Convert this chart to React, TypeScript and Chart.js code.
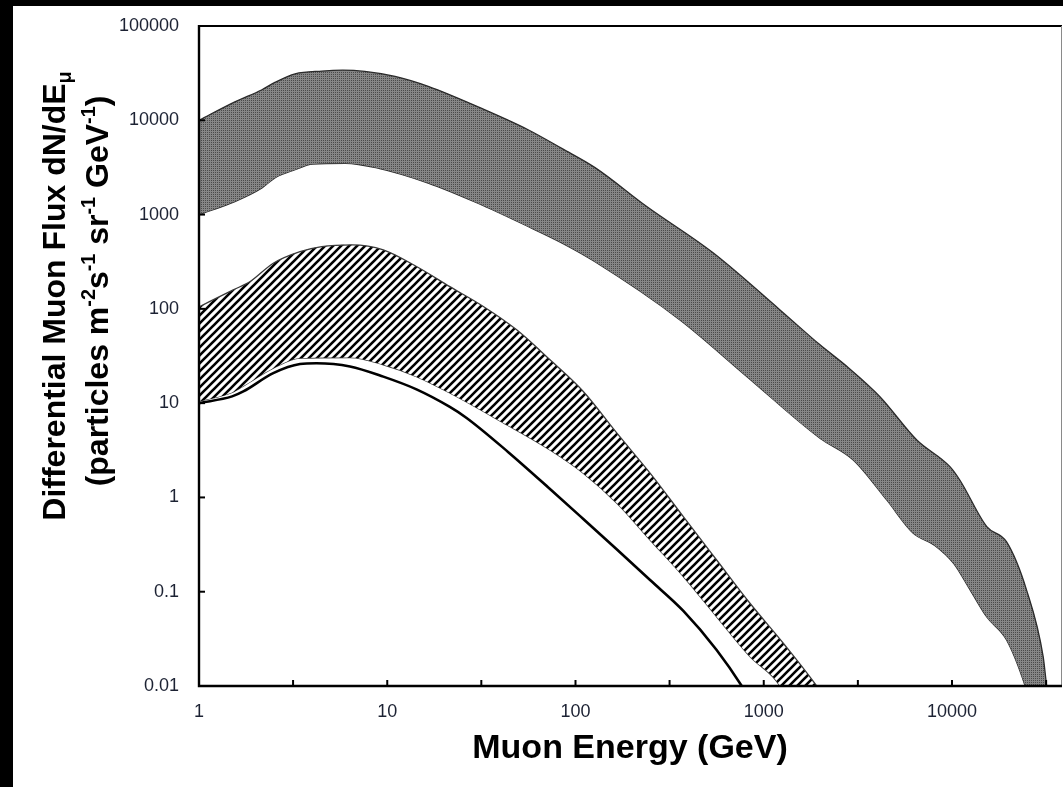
import React, { useEffect, useRef } from 'react';
import { Chart, registerables } from 'chart.js';

Chart.register(...registerables);

// ---- Data (Muon energy in GeV, differential flux) ----
const grayUpperE = [1, 1.55, 2.16, 2.53, 3.24, 4.5, 5.8, 7.6, 11, 16.5, 33, 56, 85, 127, 239, 538, 1220, 1990, 2770, 4140, 6500, 9750, 11000, 15300, 19500, 24900, 30500, 31800, 34000];
const grayUpperF = [10000, 15700, 21100, 25200, 31100, 33300, 34000, 33000, 29200, 22900, 12900, 7930, 5000, 3150, 1217, 393, 97.5, 41.5, 24.4, 11.7, 4.07, 2.12, 1.53, 0.49, 0.337, 0.104, 0.0205, 0.0102, 0.004];

const grayLowerE = [1, 1.55, 2.16, 2.53, 3.24, 4.0, 6.0, 8.9, 16.5, 30.3, 56, 85, 127, 359, 815, 1990, 2990, 4500, 6230, 8100, 10200, 12500, 15300, 19500, 24400, 27000, 34000];
const grayLowerF = [1000, 1375, 1920, 2450, 2990, 3430, 3500, 3110, 2160, 1320, 747, 498, 316, 76.4, 19.1, 4.25, 2.5, 0.94, 0.417, 0.31, 0.2, 0.104, 0.054, 0.0308, 0.0102, 0.005, 0.002];

const hatchUpperE = [1, 1.52, 1.87, 2.48, 3.44, 4.49, 6.5, 9.53, 14.3, 21.5, 32.4, 48.7, 73.2, 110, 166, 249, 374, 562, 845, 1270, 1910, 2600];
const hatchUpperF = [105, 159, 195, 305, 405, 458, 478, 423, 281, 172, 106, 59.9, 28.8, 13.3, 4.8, 1.81, 0.625, 0.217, 0.0754, 0.0284, 0.01, 0.004];

const hatchLowerE = [1, 1.5, 1.75, 2.48, 3.44, 6.34, 9.53, 14.3, 21.5, 39.7, 73.2, 110, 166, 249, 374, 562, 845, 1220, 1500, 2600];
const hatchLowerF = [10.5, 13, 15.5, 23.5, 30, 30.5, 25.5, 19.1, 12.8, 6.48, 3.19, 1.81, 0.868, 0.354, 0.145, 0.0543, 0.0205, 0.01, 0.004, 0.001];

const lineE = [1, 1.5, 1.72, 2.48, 3.44, 4.2, 6.34, 9.53, 14.3, 21.5, 26.4, 43.8, 73.2, 110, 166, 249, 374, 562, 764, 1000];
const lineF = [10, 11.8, 13.3, 20.8, 26, 26.5, 24.5, 19.1, 14.0, 9.12, 6.97, 3.04, 1.23, 0.591, 0.28, 0.133, 0.0626, 0.0241, 0.01, 0.004];

const xLabelTicks = [1, 10, 100, 1000, 10000];
const xTickMarks = [3.16, 10, 31.6, 100, 316, 1000, 3162, 10000, 31623];
const yTicks = [0.01, 0.1, 1, 10, 100, 1000, 10000, 100000];

const X_MIN = 1;
const X_MAX = 38400;
const Y_MIN = 0.01;
const Y_MAX = 100000;

const xTitle = 'Muon Energy (GeV)';
const yTitleLine1 = [
  { t: 'Differential Muon Flux dN/dE', k: 'n' },
  { t: 'μ', k: 'sub' },
];
const yTitleLine2 = [
  { t: '(particles m', k: 'n' },
  { t: '-2', k: 'sup' },
  { t: 's', k: 'n' },
  { t: '-1', k: 'sup' },
  { t: ' sr', k: 'n' },
  { t: '-1', k: 'sup' },
  { t: ' GeV', k: 'n' },
  { t: '-1', k: 'sup' },
  { t: ')', k: 'n' },
];

const FONT = "'Liberation Sans', Arial, Helvetica, sans-serif";

const pts = (xs: number[], ys: number[]) => xs.map((x, i) => ({ x, y: ys[i] }));

function makeGrayPattern(): CanvasPattern | string {
  const c = document.createElement('canvas');
  c.width = 2;
  c.height = 2;
  const g = c.getContext('2d');
  if (!g) return '#7c7c7c';
  g.fillStyle = '#868686';
  g.fillRect(0, 0, 2, 2);
  g.fillStyle = '#4a4a4a';
  g.fillRect(0, 0, 1, 1);
  return g.createPattern(c, 'repeat') || '#7c7c7c';
}

function makeHatchPattern(): CanvasPattern | string {
  const s = 8;
  const c = document.createElement('canvas');
  c.width = s;
  c.height = s;
  const g = c.getContext('2d');
  if (!g) return '#888';
  g.fillStyle = '#ffffff';
  g.fillRect(0, 0, s, s);
  g.strokeStyle = '#000000';
  g.lineWidth = 2.6;
  g.beginPath();
  g.moveTo(-1, s + 1);
  g.lineTo(s + 1, -1);
  g.moveTo(-1, 1);
  g.lineTo(1, -1);
  g.moveTo(s - 1, s + 1);
  g.lineTo(s + 1, s - 1);
  g.stroke();
  return g.createPattern(c, 'repeat') || '#888';
}

function drawRich(ctx: CanvasRenderingContext2D, segs: { t: string; k: string }[], cx: number, cy: number, size: number) {
  ctx.save();
  ctx.translate(cx, cy);
  ctx.rotate(-Math.PI / 2);
  const small = size * 0.62;
  const items = segs.map((s) => {
    const sz = s.k === 'n' ? size : small;
    ctx.font = `bold ${sz}px ${FONT}`;
    return { ...s, sz, w: ctx.measureText(s.t).width };
  });
  const total = items.reduce((a, b) => a + b.w, 0);
  let x = -total / 2;
  const base = size * 0.36;
  ctx.fillStyle = '#000';
  ctx.textAlign = 'left';
  ctx.textBaseline = 'alphabetic';
  for (const it of items) {
    ctx.font = `bold ${it.sz}px ${FONT}`;
    let dy = base;
    if (it.k === 'sup') dy = base - size * 0.38;
    if (it.k === 'sub') dy = base + size * 0.2;
    ctx.fillText(it.t, x, dy);
    x += it.w;
  }
  ctx.restore();
}

const decorPlugin = {
  id: 'decor',
  afterDatasetsDraw(chart: any) {
    const { ctx, chartArea: a, scales } = chart;
    const xs = scales.x;
    const ys = scales.y;
    ctx.save();
    // frame
    ctx.strokeStyle = '#000';
    ctx.lineWidth = 2;
    ctx.beginPath();
    ctx.moveTo(a.left, a.top);
    ctx.lineTo(a.right, a.top);
    ctx.stroke();
    ctx.strokeStyle = '#8a8a8a';
    ctx.lineWidth = 1;
    ctx.beginPath();
    ctx.moveTo(a.right - 0.5, a.top);
    ctx.lineTo(a.right - 0.5, a.bottom);
    ctx.stroke();
    ctx.strokeStyle = '#000';
    ctx.lineWidth = 2.4;
    ctx.beginPath();
    ctx.moveTo(a.left, a.top - 1);
    ctx.lineTo(a.left, a.bottom);
    ctx.lineTo(a.right, a.bottom);
    ctx.stroke();
    // inward tick marks
    ctx.lineWidth = 2;
    for (const v of xTickMarks) {
      const px = xs.getPixelForValue(v);
      ctx.beginPath();
      ctx.moveTo(px, a.bottom);
      ctx.lineTo(px, a.bottom - 6);
      ctx.stroke();
    }
    for (const v of yTicks) {
      const py = ys.getPixelForValue(v);
      ctx.beginPath();
      ctx.moveTo(a.left, py);
      ctx.lineTo(a.left + 6, py);
      ctx.stroke();
    }
    // titles
    ctx.fillStyle = '#000';
    ctx.font = `bold 34px ${FONT}`;
    ctx.textAlign = 'center';
    ctx.textBaseline = 'alphabetic';
    ctx.fillText(xTitle, a.left + 431, a.bottom + 72);
    drawRich(ctx, yTitleLine1, a.left - 146, a.top + 270, 32);
    drawRich(ctx, yTitleLine2, a.left - 103, a.top + 265, 32);
    ctx.restore();
  },
};

export default function App() {
  const ref = useRef<HTMLCanvasElement | null>(null);

  useEffect(() => {
    if (!ref.current) return;
    const gray = makeGrayPattern();
    const hatch = makeHatchPattern();
    const tickFont = { family: FONT, size: 18 };
    const common = {
      pointRadius: 0,
      pointHoverRadius: 0,
      cubicInterpolationMode: 'monotone' as const,
    };
    const chart = new Chart(ref.current, {
      type: 'line',
      data: {
        datasets: [
          {
            ...common,
            data: pts(grayUpperE, grayUpperF),
            borderColor: '#2a2a2a',
            borderWidth: 1.3,
            backgroundColor: gray as any,
            fill: '+1',
          },
          {
            ...common,
            data: pts(grayLowerE, grayLowerF),
            borderColor: '#2a2a2a',
            borderWidth: 1.3,
            fill: false,
          },
          {
            ...common,
            data: pts(hatchUpperE, hatchUpperF),
            borderColor: '#3a3a3a',
            borderWidth: 1.3,
            backgroundColor: hatch as any,
            fill: '+1',
          },
          {
            ...common,
            data: pts(hatchLowerE, hatchLowerF),
            borderColor: '#3a3a3a',
            borderWidth: 1.3,
            fill: false,
          },
          {
            ...common,
            data: pts(lineE, lineF),
            borderColor: '#000',
            borderWidth: 2.6,
            fill: false,
          },
        ],
      },
      options: {
        animation: false,
        responsive: false,
        maintainAspectRatio: false,
        parsing: { xAxisKey: 'x', yAxisKey: 'y' } as any,
        layout: { padding: { top: 20, right: 1, bottom: 0, left: 0 } },
        plugins: {
          legend: { display: false },
          tooltip: { enabled: false },
          title: { display: false },
        },
        events: [],
        scales: {
          x: {
            type: 'logarithmic',
            min: X_MIN,
            max: X_MAX,
            afterBuildTicks: (s: any) => {
              s.ticks = xLabelTicks.map((v) => ({ value: v }));
            },
            afterFit: (s: any) => {
              s.height = 101;
              s.paddingLeft = 0;
              s.paddingRight = 0;
              s.paddingTop = 0;
              s.paddingBottom = 0;
            },
            ticks: {
              autoSkip: false,
              maxRotation: 0,
              padding: 15,
              color: '#1c2233',
              font: tickFont,
              callback: (v: any) => String(v),
            },
            grid: { display: false, drawTicks: false },
            border: { display: false },
          },
          y: {
            type: 'logarithmic',
            min: Y_MIN,
            max: Y_MAX,
            afterBuildTicks: (s: any) => {
              s.ticks = yTicks.map((v) => ({ value: v }));
            },
            afterFit: (s: any) => {
              s.width = 186;
              s.paddingLeft = 0;
              s.paddingRight = 0;
              s.paddingTop = 0;
              s.paddingBottom = 0;
            },
            ticks: {
              autoSkip: false,
              padding: 20,
              color: '#1c2233',
              font: tickFont,
              callback: (v: any) => String(v),
            },
            grid: { display: false, drawTicks: false },
            border: { display: false },
          },
        },
      },
      plugins: [decorPlugin],
    });
    return () => chart.destroy();
  }, []);

  return (
    <div
      style={{
        position: 'fixed',
        left: 0,
        top: 0,
        width: 1063,
        height: 787,
        background: '#000',
        overflow: 'hidden',
      }}
    >
      <canvas
        ref={ref}
        width={1050}
        height={781}
        style={{ position: 'absolute', left: 13, top: 6, width: 1050, height: 781, background: '#fff' }}
      />
    </div>
  );
}
